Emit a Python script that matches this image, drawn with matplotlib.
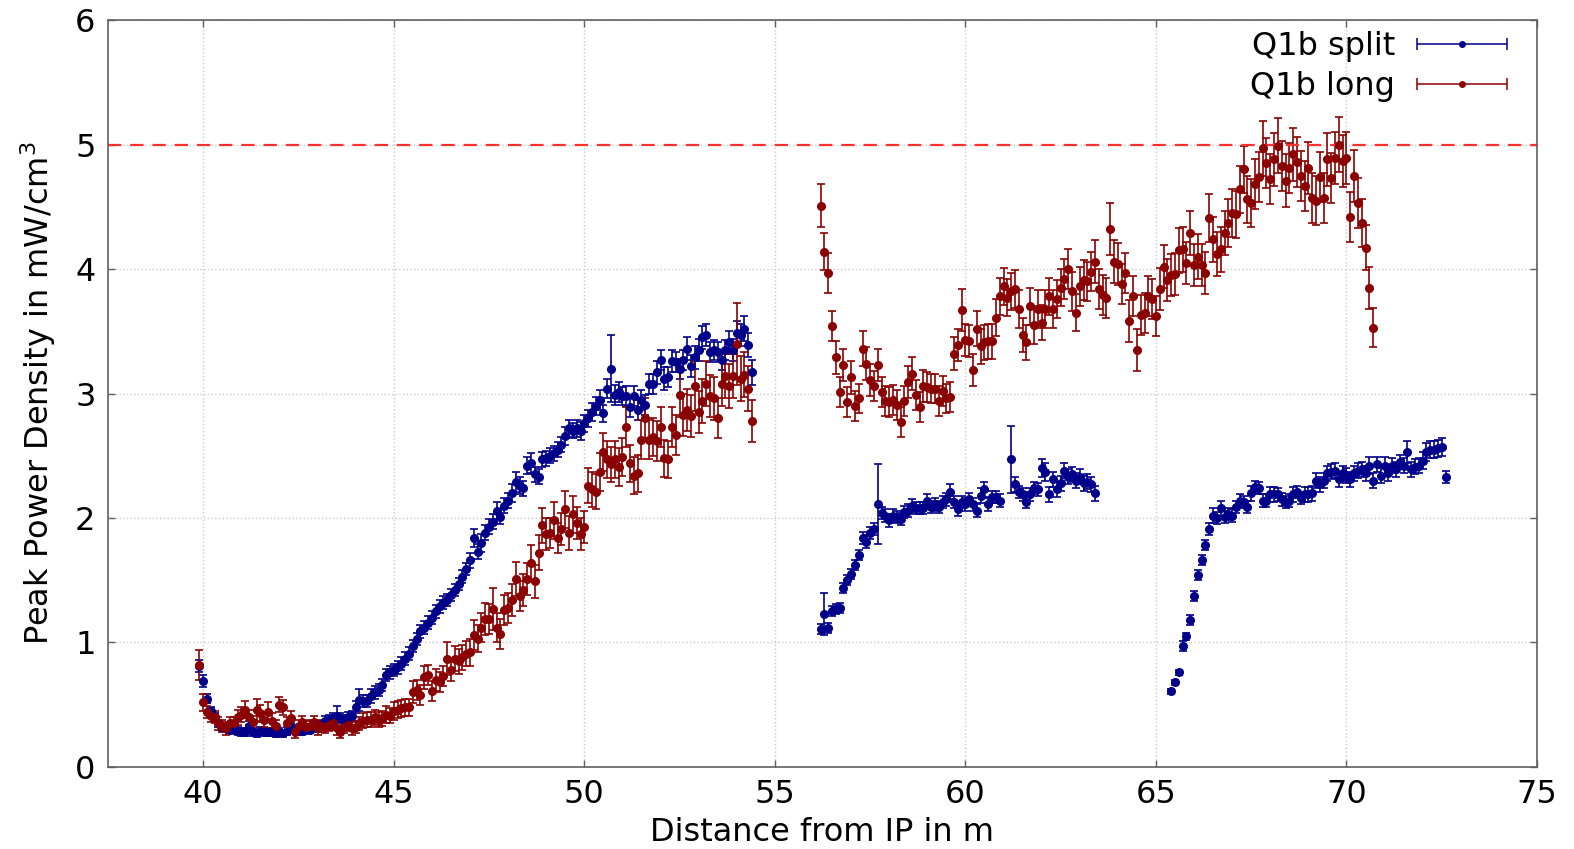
import numpy as np
import matplotlib
matplotlib.use('Agg')
import matplotlib.pyplot as plt
from matplotlib.container import ErrorbarContainer
from matplotlib.legend_handler import HandlerErrorbar

# sampling of the scans (distance in m)
step = 0.1
split_starts = [39.9, 56.2, 65.4]
long_starts = [39.9, 56.2]

# Q1b split, three scan ranges
split_y1 = [0.81, 0.69, 0.55, 0.45, 0.40, 0.35, 0.32, 0.31, 0.30, 0.30,
            0.29, 0.28, 0.28, 0.33, 0.28, 0.27, 0.29, 0.28, 0.28, 0.28,
            0.27, 0.28, 0.27, 0.29, 0.32, 0.31, 0.29, 0.29, 0.30, 0.30,
            0.31, 0.32, 0.34, 0.37, 0.38, 0.39, 0.41, 0.39, 0.38, 0.40,
            0.41, 0.48, 0.54, 0.53, 0.53, 0.57, 0.60, 0.62, 0.66, 0.74,
            0.76, 0.78, 0.80, 0.83, 0.87, 0.91, 0.97, 1.03, 1.09, 1.12,
            1.16, 1.20, 1.25, 1.29, 1.32, 1.34, 1.38, 1.42, 1.47, 1.53,
            1.59, 1.66, 1.84, 1.73, 1.80, 1.88, 1.93, 1.97, 2.06, 2.01,
            2.10, 2.14, 2.20, 2.29, 2.26, 2.24, 2.42, 2.44, 2.35, 2.33,
            2.47, 2.48, 2.50, 2.52, 2.55, 2.59, 2.66, 2.72, 2.70, 2.72,
            2.70, 2.76, 2.80, 2.85, 2.90, 2.95, 2.84, 3.04, 3.20, 2.99,
            3.01, 2.98, 2.98, 2.89, 2.98, 2.87, 2.95, 2.91, 3.08, 3.08,
            3.17, 3.27, 3.12, 3.13, 3.26, 3.25, 3.20, 3.27, 3.36, 3.22,
            3.29, 3.35, 3.45, 3.47, 3.33, 3.35, 3.33, 3.27, 3.35, 3.41,
            3.35, 3.49, 3.47, 3.52, 3.39, 3.17]
split_e1 = [0.05, 0.05, 0.04, 0.03, 0.03, 0.03, 0.03, 0.03, 0.03, 0.03,
            0.03, 0.03, 0.03, 0.04, 0.03, 0.03, 0.03, 0.03, 0.03, 0.03,
            0.03, 0.03, 0.03, 0.03, 0.03, 0.03, 0.03, 0.03, 0.03, 0.03,
            0.03, 0.03, 0.03, 0.04, 0.04, 0.04, 0.08, 0.04, 0.04, 0.04,
            0.04, 0.05, 0.09, 0.05, 0.05, 0.06, 0.05, 0.05, 0.05, 0.05,
            0.05, 0.05, 0.05, 0.05, 0.05, 0.05, 0.05, 0.05, 0.05, 0.05,
            0.05, 0.05, 0.05, 0.05, 0.05, 0.05, 0.05, 0.05, 0.05, 0.05,
            0.05, 0.06, 0.07, 0.06, 0.07, 0.06, 0.06, 0.06, 0.07, 0.06,
            0.06, 0.06, 0.07, 0.08, 0.07, 0.06, 0.07, 0.08, 0.06, 0.06,
            0.06, 0.06, 0.06, 0.06, 0.06, 0.06, 0.07, 0.07, 0.06, 0.07,
            0.07, 0.07, 0.07, 0.07, 0.07, 0.08, 0.07, 0.08, 0.27, 0.08,
            0.08, 0.07, 0.08, 0.08, 0.08, 0.08, 0.08, 0.08, 0.08, 0.08,
            0.09, 0.08, 0.09, 0.08, 0.09, 0.08, 0.08, 0.08, 0.09, 0.09,
            0.09, 0.09, 0.09, 0.09, 0.08, 0.08, 0.08, 0.08, 0.08, 0.09,
            0.09, 0.09, 0.09, 0.10, 0.10, 0.10]

split_y2 = [1.11, 1.23, 1.12, 1.25, 1.27, 1.28, 1.44, 1.50, 1.55, 1.62,
            1.70, 1.84, 1.81, 1.88, 1.91, 2.11, 2.04, 2.02, 1.98, 2.02,
            2.01, 1.99, 2.05, 2.06, 2.10, 2.08, 2.08, 2.08, 2.14, 2.09,
            2.11, 2.09, 2.13, 2.15, 2.21, 2.13, 2.07, 2.13, 2.11, 2.15,
            2.11, 2.06, 2.18, 2.23, 2.11, 2.17, 2.17, 2.14, np.nan, np.nan,
            2.47, 2.27, 2.21, 2.19, 2.13, 2.19, 2.24, 2.23, 2.40, 2.37,
            2.19, 2.31, 2.23, 2.28, 2.38, 2.33, 2.35, 2.30, 2.33, 2.28,
            2.29, 2.27, 2.20]
split_e2 = [0.04, 0.17, 0.04, 0.04, 0.04, 0.04, 0.04, 0.04, 0.04, 0.04,
            0.04, 0.05, 0.05, 0.05, 0.05, 0.32, 0.05, 0.05, 0.05, 0.05,
            0.05, 0.05, 0.05, 0.05, 0.05, 0.05, 0.05, 0.05, 0.05, 0.05,
            0.05, 0.05, 0.05, 0.05, 0.06, 0.05, 0.05, 0.05, 0.05, 0.05,
            0.05, 0.05, 0.06, 0.06, 0.05, 0.05, 0.05, 0.05, 0.00, 0.00,
            0.27, 0.06, 0.05, 0.05, 0.05, 0.05, 0.05, 0.05, 0.07, 0.07,
            0.06, 0.06, 0.06, 0.06, 0.06, 0.06, 0.06, 0.06, 0.06, 0.06,
            0.06, 0.06, 0.06]

split_y3 = [0.61, 0.68, 0.76, 0.97, 1.05, 1.18, 1.37, 1.54, 1.66, 1.78,
            1.91, 2.02, 2.00, 2.08, 2.01, 2.03, 2.02, 2.09, 2.14, 2.13,
            2.09, 2.20, 2.25, 2.24, 2.14, 2.14, 2.19, 2.19, 2.19, 2.15,
            2.13, 2.14, 2.19, 2.21, 2.16, 2.19, 2.19, 2.20, 2.30, 2.27,
            2.30, 2.36, 2.37, 2.38, 2.31, 2.36, 2.34, 2.31, 2.36, 2.38,
            2.39, 2.36, 2.42, 2.30, 2.43, 2.34, 2.42, 2.36, 2.42, 2.39,
            2.45, 2.42, 2.53, 2.39, 2.41, 2.42, 2.46, 2.53, 2.55, 2.55,
            2.56, 2.57, 2.33]
split_e3 = [0.02, 0.02, 0.02, 0.04, 0.03, 0.04, 0.04, 0.04, 0.04, 0.04,
            0.05, 0.06, 0.05, 0.06, 0.05, 0.05, 0.05, 0.05, 0.05, 0.05,
            0.05, 0.06, 0.05, 0.05, 0.05, 0.05, 0.06, 0.06, 0.05, 0.05,
            0.05, 0.05, 0.06, 0.05, 0.05, 0.06, 0.06, 0.06, 0.06, 0.06,
            0.06, 0.06, 0.06, 0.06, 0.06, 0.06, 0.06, 0.06, 0.06, 0.06,
            0.06, 0.06, 0.07, 0.06, 0.06, 0.06, 0.07, 0.06, 0.06, 0.06,
            0.06, 0.06, 0.09, 0.06, 0.06, 0.06, 0.07, 0.07, 0.07, 0.07,
            0.07, 0.07, 0.05]

# Q1b long, two scan ranges
long_y1 = [0.82, 0.52, 0.44, 0.41, 0.40, 0.35, 0.33, 0.31, 0.35, 0.35,
           0.40, 0.42, 0.46, 0.40, 0.36, 0.46, 0.43, 0.38, 0.44, 0.37,
           0.33, 0.50, 0.48, 0.35, 0.39, 0.28, 0.33, 0.36, 0.32, 0.33,
           0.36, 0.31, 0.33, 0.32, 0.34, 0.35, 0.31, 0.28, 0.32, 0.34,
           0.31, 0.32, 0.35, 0.37, 0.38, 0.38, 0.40, 0.38, 0.39, 0.42,
           0.41, 0.45, 0.46, 0.47, 0.48, 0.48, 0.60, 0.62, 0.58, 0.72,
           0.74, 0.61, 0.70, 0.68, 0.73, 0.87, 0.78, 0.87, 0.85, 0.88,
           0.91, 0.92, 1.06, 1.03, 1.12, 1.19, 1.19, 1.27, 1.12, 1.07,
           1.26, 1.28, 1.34, 1.51, 1.37, 1.42, 1.51, 1.64, 1.49, 1.72,
           1.94, 1.87, 1.88, 1.98, 1.84, 1.91, 2.07, 1.88, 2.03, 1.96,
           1.87, 1.93, 2.26, 2.23, 2.21, 2.37, 2.53, 2.47, 2.43, 2.47,
           2.41, 2.49, 2.73, 2.44, 2.34, 2.36, 2.63, 2.80, 2.63, 2.65,
           2.62, 2.73, 2.48, 2.47, 2.73, 2.67, 2.99, 2.83, 2.87, 2.82,
           3.06, 2.85, 2.94, 3.08, 2.98, 2.96, 2.80, 3.08, 3.14, 3.06,
           3.14, 3.40, 3.12, 3.15, 3.04, 2.78]
long_e1 = [0.12, 0.07, 0.05, 0.05, 0.05, 0.05, 0.05, 0.05, 0.05, 0.05,
           0.06, 0.06, 0.07, 0.06, 0.05, 0.09, 0.07, 0.06, 0.08, 0.06,
           0.05, 0.06, 0.06, 0.05, 0.06, 0.05, 0.05, 0.05, 0.05, 0.05,
           0.05, 0.05, 0.05, 0.05, 0.05, 0.05, 0.05, 0.05, 0.05, 0.05,
           0.05, 0.05, 0.05, 0.06, 0.06, 0.06, 0.06, 0.06, 0.06, 0.07,
           0.06, 0.07, 0.07, 0.07, 0.07, 0.07, 0.09, 0.08, 0.08, 0.09,
           0.08, 0.08, 0.09, 0.08, 0.08, 0.13, 0.09, 0.10, 0.10, 0.10,
           0.10, 0.11, 0.12, 0.11, 0.12, 0.13, 0.12, 0.17, 0.12, 0.12,
           0.12, 0.12, 0.13, 0.14, 0.12, 0.13, 0.13, 0.14, 0.13, 0.14,
           0.14, 0.13, 0.12, 0.15, 0.12, 0.13, 0.15, 0.14, 0.15, 0.13,
           0.13, 0.13, 0.14, 0.14, 0.14, 0.15, 0.15, 0.15, 0.14, 0.15,
           0.15, 0.15, 0.16, 0.15, 0.15, 0.15, 0.16, 0.16, 0.16, 0.15,
           0.16, 0.16, 0.15, 0.15, 0.16, 0.16, 0.18, 0.17, 0.17, 0.17,
           0.20, 0.17, 0.18, 0.18, 0.17, 0.17, 0.16, 0.18, 0.18, 0.18,
           0.18, 0.33, 0.18, 0.18, 0.18, 0.17]

long_y2 = [4.51, 4.14, 3.97, 3.54, 3.29, 3.01, 3.23, 2.93, 3.13, 2.90,
           2.96, 3.36, 3.24, 3.11, 3.06, 3.23, 3.01, 2.94, 2.93, 2.95,
           2.91, 2.77, 2.94, 3.09, 3.16, 2.99, 2.89, 3.06, 3.05, 3.04,
           3.04, 2.94, 3.02, 2.96, 2.97, 3.32, 3.39, 3.67, 3.43, 3.42,
           3.19, 3.52, 3.38, 3.41, 3.42, 3.42, 3.61, 3.78, 3.86, 3.77,
           3.82, 3.84, 3.68, 3.47, 3.41, 3.70, 3.55, 3.68, 3.57, 3.68,
           3.78, 3.68, 3.76, 3.85, 3.92, 4.00, 3.82, 3.65, 3.86, 3.91,
           3.90, 3.98, 4.06, 3.84, 3.79, 3.77, 4.32, 4.06, 4.04, 3.88,
           3.97, 3.58, 3.78, 3.35, 3.63, 3.65, 3.78, 3.76, 3.62, 3.84,
           4.02, 3.91, 3.95, 3.96, 4.15, 4.16, 4.05, 4.29, 4.03, 4.10,
           4.03, 3.97, 4.41, 4.24, 4.12, 4.16, 4.29, 4.37, 4.45, 4.44,
           4.64, 4.80, 4.56, 4.53, 4.68, 4.74, 4.97, 4.85, 4.72, 4.88,
           4.99, 4.83, 4.71, 4.81, 4.92, 4.86, 4.75, 4.67, 4.81, 4.57,
           4.55, 4.74, 4.57, 4.88, 4.73, 4.89, 5.00, 4.87, 4.89, 4.42,
           4.75, 4.53, 4.37, 4.17, 3.85, 3.53]
long_e2 = [0.17, 0.15, 0.16, 0.12, 0.13, 0.12, 0.13, 0.12, 0.13, 0.12,
           0.12, 0.14, 0.13, 0.13, 0.12, 0.13, 0.12, 0.12, 0.12, 0.12,
           0.12, 0.12, 0.12, 0.13, 0.13, 0.12, 0.12, 0.13, 0.12, 0.12,
           0.12, 0.12, 0.12, 0.12, 0.12, 0.13, 0.13, 0.17, 0.13, 0.13,
           0.13, 0.14, 0.14, 0.14, 0.14, 0.14, 0.15, 0.15, 0.15, 0.15,
           0.15, 0.15, 0.15, 0.14, 0.14, 0.15, 0.15, 0.15, 0.14, 0.15,
           0.15, 0.15, 0.15, 0.15, 0.16, 0.16, 0.16, 0.15, 0.16, 0.16,
           0.16, 0.16, 0.17, 0.16, 0.16, 0.16, 0.21, 0.17, 0.17, 0.16,
           0.16, 0.17, 0.16, 0.17, 0.16, 0.16, 0.16, 0.16, 0.16, 0.17,
           0.17, 0.17, 0.17, 0.17, 0.18, 0.18, 0.17, 0.18, 0.17, 0.18,
           0.17, 0.17, 0.19, 0.18, 0.18, 0.18, 0.18, 0.19, 0.19, 0.19,
           0.19, 0.19, 0.19, 0.19, 0.20, 0.20, 0.22, 0.20, 0.20, 0.21,
           0.22, 0.20, 0.21, 0.20, 0.21, 0.20, 0.20, 0.20, 0.21, 0.20,
           0.20, 0.20, 0.20, 0.21, 0.20, 0.21, 0.22, 0.21, 0.21, 0.20,
           0.21, 0.20, 0.19, 0.18, 0.17, 0.16]

limit = 5.0
labels = ['Q1b split', 'Q1b long']


def scan_x(start, values):
    return start + step * np.arange(len(values))


def main():
    plt.rcParams['font.family'] = 'DejaVu Sans'
    fig = plt.figure(figsize=(15.74, 8.49), dpi=100)
    ax = fig.add_axes([0.0686, 0.0966, 0.9079, 0.8798])

    blue = '#00008b'
    red = '#8b0000'
    style = dict(fmt='o', ms=5.5, capsize=3, elinewidth=1.2, capthick=1.2)

    split_sets = [(split_y1, split_e1), (split_y2, split_e2), (split_y3, split_e3)]
    for start, (y, e) in zip(split_starts, split_sets):
        ax.errorbar(scan_x(start, y), y, yerr=e, color=blue, ecolor=blue, **style)

    long_sets = [(long_y1, long_e1), (long_y2, long_e2)]
    for start, (y, e) in zip(long_starts, long_sets):
        ax.errorbar(scan_x(start, y), y, yerr=e, color=red, ecolor=red, **style)

    ax.axhline(limit, color='#ff3030', lw=1.6, ls=(0, (6, 4)))

    # legend entries drawn like gnuplot (horizontal bar with caps)
    handles = []
    for c in [blue, red]:
        h = ax.errorbar([np.nan], [np.nan], xerr=[1.0], fmt='o', ms=4, color=c,
                        capsize=4, elinewidth=1.1, capthick=1.1)
        handles.append(h)
    ax.legend(handles, labels, loc='upper right', frameon=False, markerfirst=False,
              fontsize=23, handlelength=4.0, handletextpad=0.1, labelspacing=0.27,
              borderaxespad=0.25, borderpad=0.1,
              handler_map={ErrorbarContainer: HandlerErrorbar(xerr_size=1.4)})

    ax.set_xlim(37.5, 75)
    ax.set_ylim(0, 6)
    ax.set_xticks([40, 45, 50, 55, 60, 65, 70, 75])
    ax.set_yticks([0, 1, 2, 3, 4, 5, 6])
    ax.grid(True, color='#c8c8c8', ls=':', lw=1.0)
    ax.set_axisbelow(True)
    for s in ax.spines.values():
        s.set_color('#606060')
        s.set_linewidth(1.2)
    ax.tick_params(direction='in', length=5, width=1, color='#606060',
                   top=True, right=True, labelsize=23, pad=9)

    ax.set_xlabel('Distance from IP in m', fontsize=23, labelpad=5)
    ax.set_ylabel('Peak Power Density in mW/cm$^3$', fontsize=23, labelpad=12)

    fig.savefig('out.png', dpi=100)


if __name__ == '__main__':
    main()
